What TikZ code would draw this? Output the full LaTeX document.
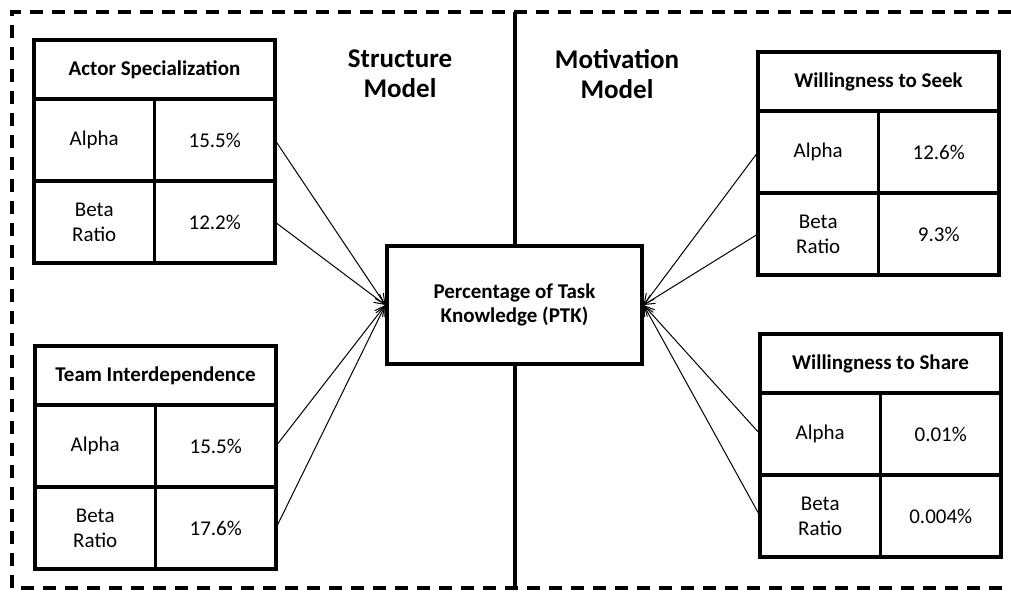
\documentclass[tikz,border=0pt]{standalone}
\usepackage{fontspec}
\setmainfont{Carlito}
\usetikzlibrary{arrows.meta}
\tikzset{
  frame/.style = {line width=3.2pt, dash pattern=on 13pt off 9pt},
  cell/.style  = {draw, line width=3.2pt, inner sep=0pt, outer sep=0pt,
                  anchor=north west, align=center,
                  minimum width=#1, font=\fontsize{21}{25}\selectfont},
  cell/.default = 120.5pt,
  head/.style  = {cell=241pt, minimum height=59pt,
                  font=\fontsize{21}{25}\selectfont\bfseries},
  hub/.style   = {draw, fill=white, line width=3.2pt, inner sep=0pt,
                  minimum width=255pt, minimum height=118pt, align=center,
                  font=\fontsize{21}{24}\selectfont\bfseries},
  title/.style = {align=center, font=\fontsize{27}{30}\selectfont\bfseries},
  link/.style  = {line width=1pt, -{Straight Barb[length=10pt,width=10pt]}}
}
\begin{document}
\begin{tikzpicture}[x=1pt, y=-1pt]
	\def \ch{82pt}
	\useasboundingbox (0,0) rectangle (1011,593);
	
	% Frame and divider
	\draw[frame] (1011,12) -- (12,12) -- (12,588) -- (1011,588);
	\draw[line width=3.2pt] (515,12) -- (515,588);
	
	% Titles
	\node[title] (smodel) at (400,74) {Structure\\Model};
	\node[title] (mmodel) at (617,74) {Motivation\\Model};
	
	% PTK
	\node[hub] (ptk) at (514.5,305) {Percentage of Task\\Knowledge (PTK)};
	
	% Actor Specialization
	\node[head] (as) at (34,40) {Actor Specialization};
	\node[cell, minimum height=\ch] (as-a)  at (as.south west) {Alpha};
	\node[cell, minimum height=\ch] (as-av) at (as-a.north east) {15.5\%};
	\node[cell, minimum height=\ch] (as-b)  at (as-a.south west) {Beta\\Ratio};
	\node[cell, minimum height=\ch] (as-bv) at (as-b.north east) {12.2\%};
	
	% Team Interdependence
	\node[head] (ti) at (35,346) {Team Interdependence};
	\node[cell, minimum height=\ch] (ti-a)  at (ti.south west) {Alpha};
	\node[cell, minimum height=\ch] (ti-av) at (ti-a.north east) {15.5\%};
	\node[cell, minimum height=\ch] (ti-b)  at (ti-a.south west) {Beta\\Ratio};
	\node[cell, minimum height=\ch] (ti-bv) at (ti-b.north east) {17.6\%};
	
	% Willingness to Seek
	\node[head] (ws) at (758,52) {Willingness to Seek};
	\node[cell, minimum height=\ch] (ws-a)  at (ws.south west) {Alpha};
	\node[cell, minimum height=\ch] (ws-av) at (ws-a.north east) {12.6\%};
	\node[cell, minimum height=\ch] (ws-b)  at (ws-a.south west) {Beta\\Ratio};
	\node[cell, minimum height=\ch] (ws-bv) at (ws-b.north east) {9.3\%};
	
	% Willingness to Share
	\node[head] (wh) at (760,334) {Willingness to Share};
	\node[cell, minimum height=\ch] (wh-a)  at (wh.south west) {Alpha};
	\node[cell, minimum height=\ch] (wh-av) at (wh-a.north east) {0.01\%};
	\node[cell, minimum height=\ch] (wh-b)  at (wh-a.south west) {Beta\\Ratio};
	\node[cell, minimum height=\ch] (wh-bv) at (wh-b.north east) {0.004\%};
	
	% Links
	\draw[link] (as-av.east) -- (ptk.west);
	\draw[link] (as-bv.east) -- (ptk.west);
	\draw[link] (ti-av.east) -- (ptk.west);
	\draw[link] (ti-bv.east) -- (ptk.west);
	\draw[link] (ws-a.west) -- (ptk.east);
	\draw[link] (ws-b.west) -- (ptk.east);
	\draw[link] (wh-a.west) -- (ptk.east);
	\draw[link] (wh-b.west) -- (ptk.east);
	
\end{tikzpicture}
\end{document}
